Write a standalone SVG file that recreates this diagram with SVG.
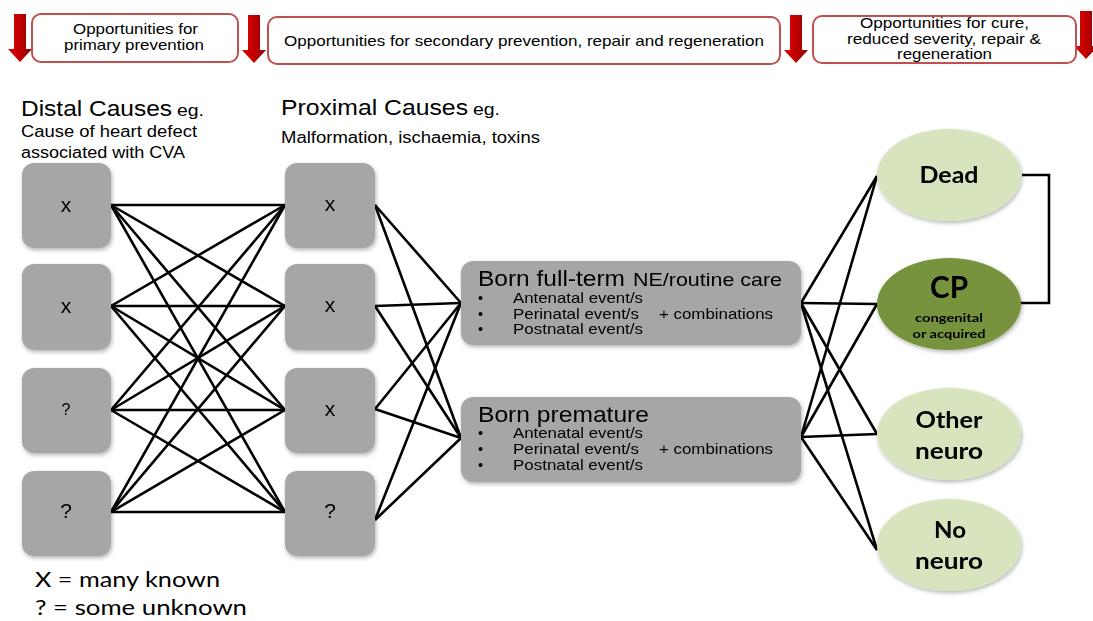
<svg xmlns="http://www.w3.org/2000/svg" width="1093" height="621" viewBox="0 0 1093 621">
<style>
.h{font-family:"Liberation Sans",Arial,sans-serif;fill:#000}
.c{font-family:Lato,"Open Sans",sans-serif;font-weight:bold;fill:#000;text-anchor:middle}
.opp{fill:#fff;stroke:#c0504d;stroke-width:2}
.gb{fill:#a6a6a6}
.el{fill:#d7e4bd}
.cn line,.cn polyline{stroke:#000;stroke-width:2.6;fill:none}
text{lengthAdjust:spacingAndGlyphs}
</style>
<defs>
<linearGradient id="rg" x1="0" y1="0" x2="1" y2="0">
<stop offset="0" stop-color="#e00000"/><stop offset="0.5" stop-color="#c00000"/><stop offset="1" stop-color="#8a0000"/>
</linearGradient>
<filter id="sh" x="-10%" y="-10%" width="125%" height="125%">
<feGaussianBlur in="SourceAlpha" stdDeviation="2"/>
<feOffset dx="1" dy="2" result="b"/>
<feComponentTransfer><feFuncA type="linear" slope="0.3"/></feComponentTransfer>
<feMerge><feMergeNode/><feMergeNode in="SourceGraphic"/></feMerge>
</filter>
<path id="arr" d="M-6,0 H6 V35 H12 L0,48 L-12,35 H-6 Z"/>
</defs>

<g id="arrows">
<use href="#arr" x="20" y="14" fill="url(#rg)"/>
<use href="#arr" x="254" y="15" fill="url(#rg)"/>
<use href="#arr" x="796" y="15" fill="url(#rg)"/>
<use href="#arr" x="1086" y="11" fill="url(#rg)"/>
</g>

<g id="opp1"><rect class="opp" x="32" y="14" width="206" height="48" rx="9"/>
<text class="h" font-size="15" x="73" y="34" textLength="125" lengthAdjust="spacingAndGlyphs">Opportunities for</text>
<text class="h" font-size="15" x="64" y="50" textLength="140" lengthAdjust="spacingAndGlyphs">primary prevention</text></g>
<g id="opp2"><rect class="opp" x="268" y="17" width="512" height="47" rx="9"/>
<text class="h" font-size="15" x="284" y="46" textLength="480" lengthAdjust="spacingAndGlyphs">Opportunities for secondary prevention, repair and regeneration</text></g>
<g id="opp3"><rect class="opp" x="813" y="16" width="263" height="47" rx="9"/>
<text class="h" font-size="15" x="860" y="28" textLength="169" lengthAdjust="spacingAndGlyphs">Opportunities for cure,</text>
<text class="h" font-size="15" x="847" y="44" textLength="194" lengthAdjust="spacingAndGlyphs">reduced severity, repair &amp;</text>
<text class="h" font-size="15" x="897" y="59" textLength="95" lengthAdjust="spacingAndGlyphs">regeneration</text></g>

<g id="headers">
<text class="h" font-size="22" x="21" y="116" textLength="151" lengthAdjust="spacingAndGlyphs">Distal Causes</text>
<text class="h" font-size="17" x="177" y="116" textLength="27" lengthAdjust="spacingAndGlyphs">eg.</text>
<text class="h" font-size="16" x="21" y="137" textLength="176" lengthAdjust="spacingAndGlyphs">Cause of heart defect</text>
<text class="h" font-size="16" x="21" y="158" textLength="164" lengthAdjust="spacingAndGlyphs">associated with CVA</text>
<text class="h" font-size="22" x="281" y="115" textLength="187" lengthAdjust="spacingAndGlyphs">Proximal Causes</text>
<text class="h" font-size="17" x="473" y="115" textLength="27" lengthAdjust="spacingAndGlyphs">eg.</text>
<text class="h" font-size="16" x="281" y="143" textLength="259" lengthAdjust="spacingAndGlyphs">Malformation, ischaemia, toxins</text>
</g>

<g class="cn" id="connectors">
<line x1="111" y1="205" x2="285" y2="205"/><line x1="111" y1="205" x2="285" y2="306"/><line x1="111" y1="205" x2="285" y2="410"/><line x1="111" y1="205" x2="285" y2="512"/>
<line x1="111" y1="306" x2="285" y2="205"/><line x1="111" y1="306" x2="285" y2="306"/><line x1="111" y1="306" x2="285" y2="410"/><line x1="111" y1="306" x2="285" y2="512"/>
<line x1="111" y1="410" x2="285" y2="205"/><line x1="111" y1="410" x2="285" y2="306"/><line x1="111" y1="410" x2="285" y2="410"/><line x1="111" y1="410" x2="285" y2="512"/>
<line x1="111" y1="512" x2="285" y2="205"/><line x1="111" y1="512" x2="285" y2="306"/><line x1="111" y1="512" x2="285" y2="410"/><line x1="111" y1="512" x2="285" y2="512"/>
<line x1="375" y1="205" x2="461" y2="303"/><line x1="375" y1="205" x2="461" y2="438"/>
<line x1="375" y1="306" x2="461" y2="303"/><line x1="375" y1="306" x2="461" y2="438"/>
<line x1="375" y1="409" x2="461" y2="303"/><line x1="375" y1="409" x2="461" y2="438"/>
<line x1="375" y1="520" x2="461" y2="303"/><line x1="375" y1="520" x2="461" y2="438"/>
<line x1="801" y1="303" x2="877" y2="176"/><line x1="801" y1="303" x2="877" y2="304"/><line x1="801" y1="303" x2="877" y2="434"/><line x1="801" y1="303" x2="877" y2="550"/>
<line x1="801" y1="437" x2="877" y2="176"/><line x1="801" y1="437" x2="877" y2="304"/><line x1="801" y1="437" x2="877" y2="434"/><line x1="801" y1="437" x2="877" y2="550"/>
<polyline points="1022,175 1049,175 1049,303 1020,303"/>
</g>

<g id="d1" filter="url(#sh)"><rect class="gb" x="22" y="163" width="89" height="85" rx="12"/><text class="h" font-size="21" text-anchor="middle" x="66" y="212">x</text></g>
<g id="d2" filter="url(#sh)"><rect class="gb" x="22" y="264" width="89" height="86" rx="12"/><text class="h" font-size="21" text-anchor="middle" x="66" y="313">x</text></g>
<g id="d3" filter="url(#sh)"><rect class="gb" x="22" y="368" width="89" height="85" rx="12"/><text class="h" font-size="16" text-anchor="middle" x="66" y="415">?</text></g>
<g id="d4" filter="url(#sh)"><rect class="gb" x="22" y="471" width="89" height="85" rx="12"/><text class="h" font-size="21" text-anchor="middle" x="66" y="518">?</text></g>

<g id="p1" filter="url(#sh)"><rect class="gb" x="285" y="163" width="90" height="85" rx="12"/><text class="h" font-size="21" text-anchor="middle" x="330" y="211">x</text></g>
<g id="p2" filter="url(#sh)"><rect class="gb" x="285" y="264" width="90" height="86" rx="12"/><text class="h" font-size="21" text-anchor="middle" x="330" y="312">x</text></g>
<g id="p3" filter="url(#sh)"><rect class="gb" x="285" y="368" width="90" height="85" rx="12"/><text class="h" font-size="21" text-anchor="middle" x="330" y="416">x</text></g>
<g id="p4" filter="url(#sh)"><rect class="gb" x="285" y="471" width="90" height="85" rx="12"/><text class="h" font-size="21" text-anchor="middle" x="330" y="518">?</text></g>

<g id="bornfull" filter="url(#sh)"><rect class="gb" x="461" y="261" width="340" height="84" rx="12"/>
<text class="h" font-size="22" x="478" y="286" textLength="147" lengthAdjust="spacingAndGlyphs">Born full-term</text>
<text class="h" font-size="19" x="633" y="286" textLength="149" lengthAdjust="spacingAndGlyphs">NE/routine care</text>
<g class="h" font-size="14.5">
<text x="478" y="303">•</text><text x="513" y="303" textLength="130" lengthAdjust="spacingAndGlyphs">Antenatal event/s</text>
<text x="478" y="319">•</text><text x="513" y="319" textLength="126" lengthAdjust="spacingAndGlyphs">Perinatal event/s</text><text x="659" y="319" textLength="114" lengthAdjust="spacingAndGlyphs">+ combinations</text>
<text x="478" y="334">•</text><text x="513" y="334" textLength="130" lengthAdjust="spacingAndGlyphs">Postnatal event/s</text></g></g>

<g id="bornprem" filter="url(#sh)"><rect class="gb" x="461" y="397" width="340" height="85" rx="12"/>
<text class="h" font-size="22" x="478" y="422" textLength="171" lengthAdjust="spacingAndGlyphs">Born premature</text>
<g class="h" font-size="14.5">
<text x="478" y="438">•</text><text x="513" y="438" textLength="130" lengthAdjust="spacingAndGlyphs">Antenatal event/s</text>
<text x="478" y="454">•</text><text x="513" y="454" textLength="126" lengthAdjust="spacingAndGlyphs">Perinatal event/s</text><text x="659" y="454" textLength="114" lengthAdjust="spacingAndGlyphs">+ combinations</text>
<text x="478" y="470">•</text><text x="513" y="470" textLength="130" lengthAdjust="spacingAndGlyphs">Postnatal event/s</text></g></g>

<g id="dead" filter="url(#sh)"><ellipse class="el" cx="949" cy="175" rx="72" ry="46"/><text class="c" font-size="22" x="949" y="183" textLength="59" lengthAdjust="spacingAndGlyphs">Dead</text></g>
<g id="cp" filter="url(#sh)"><ellipse fill="#77933c" cx="949" cy="304" rx="72" ry="46"/><text class="c" font-size="30" x="949" y="298" textLength="38" lengthAdjust="spacingAndGlyphs">CP</text>
<text class="c" font-size="12" x="949" y="322" textLength="68" lengthAdjust="spacingAndGlyphs">congenital</text><text class="c" font-size="12" x="949" y="338" textLength="73" lengthAdjust="spacingAndGlyphs">or acquired</text></g>
<g id="other" filter="url(#sh)"><ellipse class="el" cx="949" cy="434" rx="72" ry="46"/><text class="c" font-size="22" x="949" y="428" textLength="67" lengthAdjust="spacingAndGlyphs">Other</text><text class="c" font-size="22" x="949" y="459" textLength="68" lengthAdjust="spacingAndGlyphs">neuro</text></g>
<g id="noneuro" filter="url(#sh)"><ellipse class="el" cx="949" cy="545" rx="72" ry="46"/><text class="c" font-size="22" x="950" y="538" textLength="32" lengthAdjust="spacingAndGlyphs">No</text><text class="c" font-size="22" x="949" y="569" textLength="68" lengthAdjust="spacingAndGlyphs">neuro</text></g>

<g id="legend" font-family="Lato,'Open Sans',sans-serif" font-size="21" fill="#000">
<text x="35" y="587" textLength="185" lengthAdjust="spacingAndGlyphs">X = many known</text>
<text x="35" y="615" textLength="212" lengthAdjust="spacingAndGlyphs">? = some unknown</text>
</g>
</svg>
